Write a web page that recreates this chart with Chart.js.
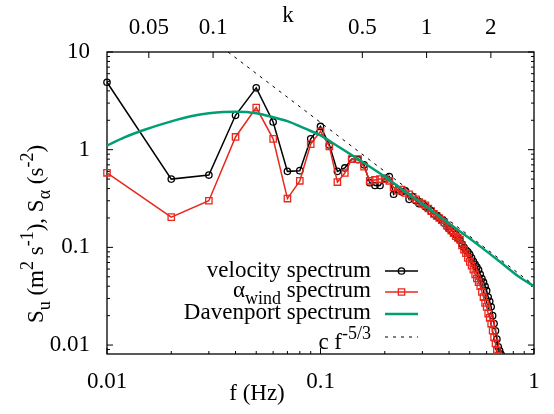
<!DOCTYPE html>
<html>
<head>
<meta charset="utf-8">
<script src="https://cdn.jsdelivr.net/npm/chart.js@4.4.1/dist/chart.umd.min.js"></script>
<style>
  html, body { margin: 0; padding: 0; background: #fff; }
  #wrap { width: 554px; height: 414px; }
</style>
</head>
<body>
<div id="wrap"><canvas id="spec"></canvas></div>
<script>
// frequencies (Hz) of the measured spectra
const freq = [
  0.01, 0.02, 0.03, 0.04, 0.05, 0.06, 0.07, 0.08, 0.09, 0.10,
  0.11, 0.12, 0.13, 0.14, 0.15, 0.16, 0.17, 0.18, 0.19, 0.20,
  0.21, 0.22, 0.23, 0.24, 0.25, 0.26, 0.27, 0.28, 0.29, 0.30,
  0.31, 0.32, 0.33, 0.34, 0.35, 0.36, 0.37, 0.38, 0.39, 0.40,
  0.41, 0.42, 0.43, 0.44, 0.45, 0.46, 0.47, 0.48, 0.49, 0.50,
  0.51, 0.52, 0.53, 0.54, 0.55, 0.56, 0.57, 0.58, 0.59, 0.60,
  0.61, 0.62, 0.63, 0.64, 0.65, 0.66, 0.67, 0.68, 0.69, 0.70
];
const velocity = [
  4.9, 0.50, 0.55, 2.25, 4.3, 1.92, 0.60, 0.61, 1.29, 1.73,
  1.12, 0.60, 0.65, 0.80, 0.79, 0.70, 0.46, 0.43, 0.43, 0.51,
  0.53, 0.35, 0.39, 0.37, 0.38, 0.31, 0.33, 0.30, 0.28, 0.28,
  0.26, 0.25, 0.235, 0.22, 0.21, 0.20, 0.19, 0.178, 0.165, 0.155,
  0.148, 0.142, 0.135, 0.125, 0.118, 0.108, 0.100, 0.094, 0.090, 0.085,
  0.078, 0.072, 0.067, 0.063, 0.059, 0.053, 0.048, 0.044, 0.040, 0.036,
  0.031, 0.028, 0.0246, 0.020, 0.0166, 0.014, 0.0115, 0.0096, 0.0088, 0.0081
];
const alphaWind = [
  0.58, 0.204, 0.30, 1.35, 2.7, 1.29, 0.316, 0.48, 1.14, 1.54,
  1.08, 0.466, 0.577, 0.80, 0.80, 0.67, 0.48, 0.49, 0.50, 0.50,
  0.48, 0.41, 0.38, 0.39, 0.36, 0.35, 0.33, 0.31, 0.29, 0.28,
  0.27, 0.25, 0.235, 0.22, 0.21, 0.20, 0.19, 0.18, 0.168, 0.158,
  0.148, 0.14, 0.13, 0.125, 0.12, 0.105, 0.095, 0.087, 0.078, 0.071,
  0.065, 0.059, 0.053, 0.048, 0.044, 0.040, 0.035, 0.031, 0.027, 0.0246,
  0.021, 0.019, 0.0166, 0.014, 0.012, 0.0104, 0.0088, 0.0078
];
// Davenport model spectrum
const davFreq = [0.01, 0.012, 0.015, 0.02, 0.025, 0.03, 0.035, 0.04, 0.05, 0.06, 0.07, 0.085,
  0.1, 0.12, 0.15, 0.2, 0.25, 0.3, 0.4, 0.5, 0.6, 0.7, 0.85, 1.0];
const davenport = [1.10, 1.33, 1.60, 1.95, 2.21, 2.36, 2.43, 2.44, 2.36, 2.15, 1.96, 1.64,
  1.40, 1.09, 0.80, 0.53, 0.37, 0.28, 0.176, 0.123, 0.091, 0.070, 0.050, 0.040];
// c f^-5/3 reference slope
const slopeFreq = [0.0369, 1.0];
const slopeVals = [10, 0.041];

const fTicks = [0.01, 0.1, 1];
const kTicks = [0.05, 0.1, 0.5, 1, 2];
const yTicks = [0.01, 0.1, 1, 10];
const kPerHz = 3.185;

const serif = '"Liberation Serif", "DejaVu Serif", serif';
const fs = 23;

function pts(xs, ys) {
  return ys.map((v, i) => ({ x: xs[i], y: v }));
}

function logMarks(min, max) {
  const out = [];
  for (let d = Math.pow(10, Math.floor(Math.log10(min))); d <= max * 1.001; d *= 10) {
    for (let m = 1; m <= 9; m++) {
      const v = +(d * m).toPrecision(4);
      if (v >= min * 0.999 && v <= max * 1.001) out.push({ v: v, major: m === 1 });
    }
  }
  return out;
}

// draws text with sub (1) / superscript (-1) pieces
function richWidth(ctx, parts) {
  let w = 0;
  parts.forEach(p => {
    ctx.font = (p[1] ? Math.round(fs * 0.8) : fs) + 'px ' + serif;
    w += ctx.measureText(p[0]).width;
  });
  return w;
}
function drawRich(ctx, parts, x, y) {
  parts.forEach(p => {
    ctx.font = (p[1] ? Math.round(fs * 0.8) : fs) + 'px ' + serif;
    const dy = p[1] > 0 ? fs * 0.3 : p[1] < 0 ? -fs * 0.42 : 0;
    ctx.fillText(p[0], x, y + dy);
    x += ctx.measureText(p[0]).width;
  });
}

const decor = {
  id: 'decor',
  beforeDatasetsDraw(chart) {
    const ctx = chart.ctx;
    const a = chart.chartArea;
    const sx = chart.scales.x, sk = chart.scales.x2, sy = chart.scales.y;
    ctx.save();
    ctx.strokeStyle = '#000';
    ctx.lineWidth = 1;
    ctx.beginPath();
    logMarks(sx.min, sx.max).forEach(t => {
      const px = sx.getPixelForValue(t.v);
      ctx.moveTo(px, a.bottom);
      ctx.lineTo(px, a.bottom - (t.major ? 6 : 3));
    });
    logMarks(sy.min, sy.max).forEach(t => {
      const py = sy.getPixelForValue(t.v);
      const len = t.major ? 6 : 3;
      ctx.moveTo(a.left, py);
      ctx.lineTo(a.left + len, py);
      ctx.moveTo(a.right, py);
      ctx.lineTo(a.right - len, py);
    });
    kTicks.forEach(v => {
      const px = sk.getPixelForValue(v);
      ctx.moveTo(px, a.top);
      ctx.lineTo(px, a.top + 6);
    });
    ctx.stroke();
    ctx.lineWidth = 1.3;
    ctx.strokeRect(a.left, a.top, a.right - a.left, a.bottom - a.top);
    ctx.restore();
  },
  afterDraw(chart) {
    const ctx = chart.ctx;
    const a = chart.chartArea;
    ctx.save();
    ctx.fillStyle = '#000';
    ctx.textBaseline = 'alphabetic';

    // axis titles
    drawRich(ctx, [['f (Hz)', 0]], 257 - richWidth(ctx, [['f (Hz)', 0]]) / 2, 400);
    drawRich(ctx, [['k', 0]], 288 - richWidth(ctx, [['k', 0]]) / 2, 22);
    const ylab = [['S', 0], ['u', 1], [' (m', 0], ['2', -1], [' s', 0], ['-1', -1], ['), S', 0],
      ['\u03b1', 1], [' (s', 0], ['-2', -1], [')', 0]];
    ctx.save();
    ctx.translate(43, 234);
    ctx.rotate(-Math.PI / 2);
    drawRich(ctx, ylab, -richWidth(ctx, ylab) / 2, 0);
    ctx.restore();

    // key, gnuplot style: text right aligned, sample after
    const rows = [
      { parts: [['velocity spectrum', 0]], ds: 0, yc: 271, dy: 6 },
      { parts: [['\u03b1', 0], ['wind', 1], [' spectrum', 0]], ds: 1, yc: 292, dy: 5 },
      { parts: [['Davenport spectrum', 0]], ds: 2, yc: 314, dy: 5 },
      { parts: [['c f', 0], ['-5/3', -1]], ds: 3, yc: 337, dy: 12 }
    ];
    const textRight = a.right - 163, x0 = a.right - 149, x1 = a.right - 116;
    rows.forEach(r => {
      const ds = chart.data.datasets[r.ds];
      ctx.fillStyle = '#000';
      drawRich(ctx, r.parts, textRight - richWidth(ctx, r.parts), r.yc + r.dy);
      ctx.save();
      ctx.strokeStyle = ds.borderColor;
      ctx.lineWidth = ds.borderWidth;
      ctx.setLineDash(ds.borderDash || []);
      ctx.beginPath();
      ctx.moveTo(x0, r.yc);
      ctx.lineTo(x1, r.yc);
      ctx.stroke();
      ctx.setLineDash([]);
      if (ds.pointRadius) {
        ctx.lineWidth = ds.pointBorderWidth;
        ctx.strokeStyle = ds.borderColor;
        ctx.fillStyle = 'rgba(0,0,0,0)';
        Chart.helpers.drawPoint(ctx, { pointStyle: ds.pointStyle, radius: ds.pointRadius,
          borderWidth: ds.pointBorderWidth, rotation: 0 }, (x0 + x1) / 2, r.yc);
      }
      ctx.restore();
    });
    ctx.restore();
  }
};

const ctx = document.getElementById('spec').getContext('2d');
new Chart(ctx, {
  type: 'line',
  data: {
    datasets: [
      {
        label: 'velocity spectrum',
        data: pts(freq, velocity),
        borderColor: '#000000',
        backgroundColor: 'rgba(0,0,0,0)',
        borderWidth: 1.5,
        pointStyle: 'circle',
        pointRadius: 3.2,
        pointBorderWidth: 1.3,
        pointBackgroundColor: 'rgba(0,0,0,0)',
        clip: { left: 6, top: 6, right: 0, bottom: 0 },
        order: 4
      },
      {
        label: 'alpha_wind spectrum',
        data: pts(freq, alphaWind),
        borderColor: '#e8281e',
        backgroundColor: 'rgba(0,0,0,0)',
        borderWidth: 1.5,
        pointStyle: 'rect',
        pointRadius: 4.5,
        pointBorderWidth: 1.3,
        pointBackgroundColor: 'rgba(0,0,0,0)',
        clip: { left: 6, top: 6, right: 0, bottom: 0 },
        order: 3
      },
      {
        label: 'Davenport spectrum',
        data: pts(davFreq, davenport),
        borderColor: '#009e73',
        borderWidth: 2.5,
        pointRadius: 0,
        cubicInterpolationMode: 'monotone',
        order: 2
      },
      {
        label: 'c f^-5/3',
        data: pts(slopeFreq, slopeVals),
        borderColor: '#000000',
        borderWidth: 1,
        borderDash: [3, 5],
        pointRadius: 0,
        order: 1
      }
    ]
  },
  options: {
    responsive: true,
    maintainAspectRatio: false,
    animation: false,
    devicePixelRatio: 1,
    layout: { padding: { left: 0, right: 20, top: 0, bottom: 0 } },
    plugins: { legend: { display: false }, tooltip: { enabled: false } },
    scales: {
      x: {
        type: 'logarithmic',
        position: 'bottom',
        min: 0.01,
        max: 1,
        grid: { display: false, drawTicks: false },
        border: { display: false },
        afterBuildTicks: s => { s.ticks = fTicks.map(v => ({ value: v })); },
        afterFit: s => { s.height = 60; },
        ticks: {
          autoSkip: false, maxRotation: 0, padding: 14, color: '#000',
          font: { family: serif, size: fs },
          callback: v => String(v)
        }
      },
      x2: {
        type: 'logarithmic',
        position: 'top',
        min: 0.01 * kPerHz,
        max: 1 * kPerHz,
        grid: { display: false, drawTicks: false },
        border: { display: false },
        afterBuildTicks: s => { s.ticks = kTicks.map(v => ({ value: v })); },
        afterFit: s => { s.height = 52; },
        ticks: {
          autoSkip: false, maxRotation: 0, padding: 10, color: '#000',
          font: { family: serif, size: fs },
          callback: v => String(v)
        }
      },
      y: {
        type: 'logarithmic',
        min: 0.0081,
        max: 10,
        grid: { display: false, drawTicks: false },
        border: { display: false },
        afterBuildTicks: s => { s.ticks = yTicks.map(v => ({ value: v })); },
        afterFit: s => { s.width = 107; },
        ticks: {
          autoSkip: false, padding: 17, color: '#000',
          font: { family: serif, size: fs },
          callback: v => String(v)
        }
      }
    }
  },
  plugins: [decor]
});
</script>
</body>
</html>
